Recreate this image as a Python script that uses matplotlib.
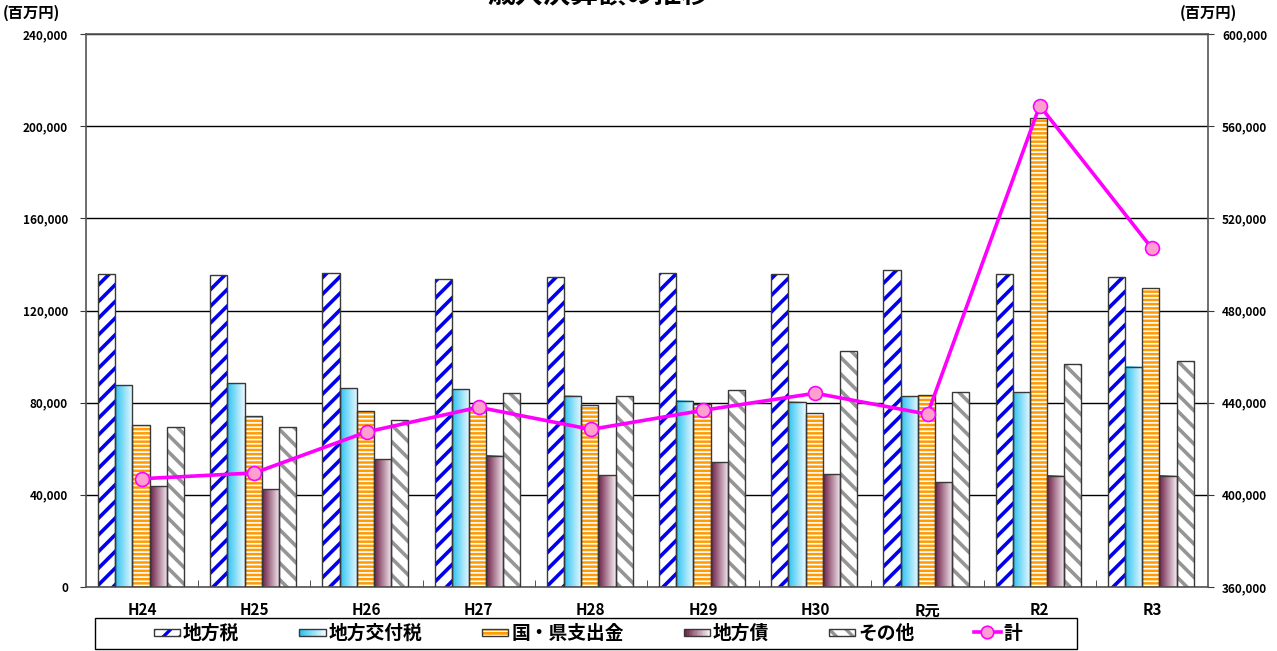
import numpy as np
import matplotlib
matplotlib.use("Agg")
import matplotlib.pyplot as plt
from matplotlib.patches import Rectangle
from matplotlib.lines import Line2D
from matplotlib.legend_handler import HandlerBase
from matplotlib.colors import to_rgb
from matplotlib.ticker import FuncFormatter, FixedLocator

plt.rcParams['font.family'] = ['Noto Sans CJK JP', 'DejaVu Sans']

# 年度
years = ["H24", "H25", "H26", "H27", "H28", "H29", "H30", "R元", "R2", "R3"]
# 歳入の内訳 (百万円)
chihouzei = [135850, 135300, 136400, 133500, 134400, 136400, 136000, 137700, 135700, 134400]
koufuzei = [87500, 88400, 86200, 85800, 83000, 80900, 80400, 82800, 84600, 95600]
shishutsukin = [70200, 74200, 76300, 78300, 79000, 79400, 75400, 83500, 203400, 129600]
chihousai = [43800, 42400, 55400, 56900, 48500, 54100, 48900, 45400, 48200, 48200]
sonota = [69600, 69600, 72600, 84100, 83000, 85600, 102400, 84800, 96900, 98200]
# 歳入合計 (右軸)
total = [407000, 409500, 427300, 438000, 428400, 436700, 444100, 435000, 568900, 507000]

labels = ["地方税", "地方交付税", "国・県支出金", "地方債", "その他", "計"]

W, H = 1277, 651
fig = plt.figure(figsize=(W / 100, H / 100), dpi=100)
ax = fig.add_axes([86 / W, 1 - 587 / H, (1208 - 86) / W, (587 - 34) / H])

x = np.arange(len(years))
bw = 0.153
offs = (np.arange(5) - 2) * bw - 0.01
EDGE = '#383838'

BLUE = '#0000ee'
GRAY = '#959595'
ORANGE = '#ff9a00'
CYAN0, CYAN1 = '#2cc3f3', '#eefaff'
MAROON0, MAROON1 = '#6a1c44', '#f8eef3'
MAGENTA = '#ff00ff'
PINK = '#ff9fd0'


def set_hlw(patch, lw):
    if hasattr(patch, 'set_hatch_linewidth'):
        patch.set_hatch_linewidth(lw)


def hatched_bars(xs, vals, face, hcolor, hatch, hlw):
    bars = ax.bar(xs, vals, bw, color=face, edgecolor=hcolor, hatch=hatch,
                  linewidth=0, zorder=2)
    for b in bars:
        set_hlw(b, hlw)
    ax.bar(xs, vals, bw, fill=False, edgecolor=EDGE, linewidth=1, zorder=3)


def gradient_bars(xs, vals, c0, c1):
    g = np.linspace(0, 1, 128)[None, :, None]
    img = (1 - g) * np.array(to_rgb(c0)) + g * np.array(to_rgb(c1))
    for xi, v in zip(xs, vals):
        ax.imshow(img, extent=[xi - bw / 2, xi + bw / 2, 0, v], aspect='auto',
                  interpolation='bilinear', zorder=2)
    ax.bar(xs, vals, bw, fill=False, edgecolor=EDGE, linewidth=1, zorder=3)


hatched_bars(x + offs[0], chihouzei, 'white', BLUE, '//', 2.6)
gradient_bars(x + offs[1], koufuzei, CYAN0, CYAN1)
hatched_bars(x + offs[2], shishutsukin, ORANGE, 'white', '----', 1.2)
gradient_bars(x + offs[3], chihousai, MAROON0, MAROON1)
hatched_bars(x + offs[4], sonota, 'white', GRAY, '\\\\', 2.6)

ax.set_xlim(-0.5, len(years) - 0.5)
ax.set_ylim(0, 240000)
ax.set_yticks(np.arange(0, 240001, 40000))
fmt = FuncFormatter(lambda v, p: f"{int(v):,}")
ax.yaxis.set_major_formatter(fmt)
ax.yaxis.grid(True, color='black', linewidth=1)
ax.set_axisbelow(True)

ax.set_xticks(x)
ax.set_xticklabels(years)
ax.xaxis.set_minor_locator(FixedLocator(np.arange(0.5, len(years) - 1, 1.0)))
ax.tick_params(axis='x', which='major', length=0, pad=11, labelsize=11)
ax.tick_params(axis='x', which='minor', direction='in', length=5, color=EDGE)
for t in ax.get_xticklabels():
    t.set_fontweight('bold')
ax.tick_params(axis='y', direction='out', length=4, pad=9, labelsize=8.5, color=EDGE)
for t in ax.get_yticklabels():
    t.set_fontweight('bold')

for s in ax.spines.values():
    s.set_color('#555555')
    s.set_linewidth(1.2)

ax2 = ax.twinx()
ax2.set_ylim(360000, 600000)
ax2.set_yticks(np.arange(360000, 600001, 40000))
ax2.yaxis.set_major_formatter(fmt)
ax2.tick_params(axis='y', direction='out', length=4, pad=6, labelsize=8.5, color=EDGE)
for t in ax2.get_yticklabels():
    t.set_fontweight('bold')
for s in ax2.spines.values():
    s.set_visible(False)
ax2.plot(x, total, color=MAGENTA, linewidth=2.6, marker='o', markersize=10,
         markerfacecolor=PINK, markeredgecolor=MAGENTA, markeredgewidth=1.2, zorder=5)

# 単位
fig.text(3 / W, 1 - 13 / H, "(百万円)", fontsize=11, fontweight='bold', ha='left', va='center')
fig.text(1180 / W, 1 - 13 / H, "(百万円)", fontsize=11, fontweight='bold', ha='left', va='center')
# タイトル
fig.text(487 / W, 1 - 9 / H, "歳入決算額の推移", fontsize=20, fontweight='bold',
         ha='left', va='bottom')


class BarKeyHandler(HandlerBase):
    def __init__(self, kind, **kw):
        super().__init__(**kw)
        self.kind = kind

    def create_artists(self, legend, orig_handle, xdescent, ydescent, width, height,
                       fontsize, trans):
        h = height * 0.55
        x0 = -xdescent
        y0 = -ydescent + (height - h) / 2
        arts = []
        kind = self.kind
        if kind[0] == 'hatch':
            _, face, hcolor, hatch, hlw = kind
            r = Rectangle((x0, y0), width, h, facecolor=face, edgecolor=hcolor,
                          hatch=hatch, linewidth=0, transform=trans)
            set_hlw(r, hlw)
            arts.append(r)
        else:
            _, c0, c1 = kind
            n = 16
            a, b = np.array(to_rgb(c0)), np.array(to_rgb(c1))
            for i in range(n):
                t = i / (n - 1)
                arts.append(Rectangle((x0 + i * width / n, y0), width / n + 0.3, h,
                                      facecolor=(1 - t) * a + t * b, edgecolor='none',
                                      linewidth=0, transform=trans))
        arts.append(Rectangle((x0, y0), width, h, fill=False, edgecolor=EDGE,
                              linewidth=1, transform=trans))
        return arts


kinds = [
    ('hatch', 'white', BLUE, '//', 2.4),
    ('grad', CYAN0, CYAN1),
    ('hatch', ORANGE, 'white', '----', 1.0),
    ('grad', MAROON0, MAROON1),
    ('hatch', 'white', GRAY, '\\\\', 2.4),
]
handles = [Rectangle((0, 0), 1, 1) for _ in kinds]
handler_map = {hd: BarKeyHandler(k) for hd, k in zip(handles, kinds)}
line_handle = Line2D([], [], color=MAGENTA, linewidth=2.6, marker='o', markersize=9,
                     markerfacecolor=PINK, markeredgecolor=MAGENTA, markeredgewidth=1.2)
handles.append(line_handle)

leg = fig.legend(handles, labels, handler_map=handler_map, loc='center',
                 bbox_to_anchor=(588 / W, 1 - 633.5 / H), ncol=6, frameon=False,
                 prop={'size': 13.5, 'weight': 'bold'}, columnspacing=3.2,
                 handletextpad=0.15, handlelength=1.4, numpoints=1)
fig.add_artist(Rectangle((95 / W, 1 - 649 / H), (1077 - 95) / W, 31 / H,
                         transform=fig.transFigure, fill=False, edgecolor='black',
                         linewidth=1))

fig.savefig("out.png", dpi=100)
